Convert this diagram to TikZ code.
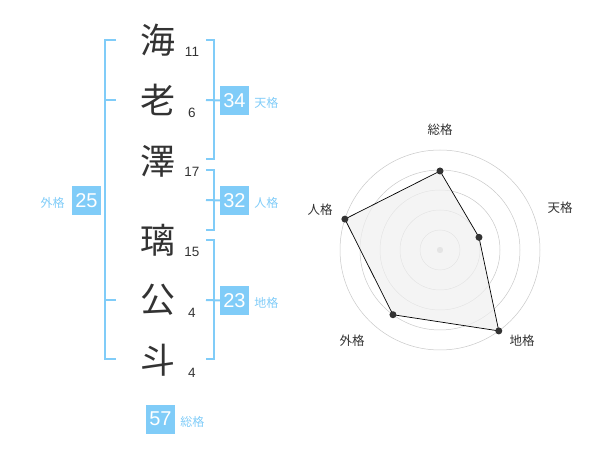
\documentclass[tikz,border=0pt]{standalone}
\usepackage{fontspec}
\setmainfont{Liberation Sans}
\newfontfamily\cjk{Noto Sans CJK JP}
\usepackage{tikz}
\usetikzlibrary{positioning,calc}
\definecolor{kakublue}{RGB}{128,204,248}
\definecolor{ringgray}{RGB}{200,200,200}
\definecolor{inkgray}{RGB}{51,51,51}
\tikzset{
  kanji/.style={inner sep=0pt, text=inkgray, font=\cjk\fontsize{35}{35}\selectfont},
  strokes/.style={inner sep=0pt, text=inkgray, font=\fontsize{13.5}{13.5}\selectfont},
  kakubox/.style={fill=kakublue, text=white, minimum size=29pt, inner sep=0pt, font=\fontsize{20}{20}\selectfont},
  kakuname/.style={inner sep=0pt, text=kakublue, font=\cjk\fontsize{12}{12}\selectfont},
  bracket/.style={draw=kakublue, line width=2pt},
  axisname/.style={inner sep=0pt, text=inkgray, font=\cjk\fontsize{12.5}{12.5}\selectfont},
  dot/.style={circle, fill=inkgray, inner sep=0pt, minimum size=7pt}
}

\begin{document}
\begin{tikzpicture}[x=1pt,y=-1pt]
\useasboundingbox (0,0) rectangle (600,470);
% name column
\node[kanji] (c1) at (158,40) {海};
\node[kanji] (c2) at (158,100) {老};
\node[kanji] (c3) at (158,161) {澤};
\node[kanji] (c4) at (158,240) {璃};
\node[kanji] (c5) at (158,300) {公};
\node[kanji] (c6) at (158,360) {斗};
\node[strokes] (s1) at (192,52) {11};
\node[strokes] (s2) at (192,113) {6};
\node[strokes] (s3) at (192,172) {17};
\node[strokes] (s4) at (192,252) {15};
\node[strokes] (s5) at (192,313) {4};
\node[strokes] (s6) at (192,373) {4};
% boxes
\node[kakubox] (ten) at (234.5,100.5) {34};
\node[kakubox] (jin) at (234.5,200.5) {32};
\node[kakubox] (chi) at (234.5,300.5) {23};
\node[kakubox] (gai) at (86.5,200.5) {25};
\node[kakubox] (sou) at (160.5,419) {57};
\node[kakuname, right=5pt of ten, yshift=-2pt] (tenname) {天格};
\node[kakuname, right=5pt of jin, yshift=-2pt] (jinname) {人格};
\node[kakuname, right=5pt of chi, yshift=-2pt] (chiname) {地格};
\node[kakuname, left=7pt of gai, yshift=-2pt] (gainame) {外格};
\node[kakuname, right=5pt of sou, yshift=-3pt] (souname) {総格};
\begin{scope}[bracket]
\draw (116,40) -| (105,359) -- (116,359);
\draw (105,100) -- (116,100);
\draw (105,300) -- (116,300);
\draw (206,40) -| (214,159) -- (206,159);
\draw (206,100) -- (ten.west);
\draw (206,170) -| (214,230) -- (206,230);
\draw (206,200) -- (jin.west);
\draw (206,240) -| (214,359) -- (206,359);
\draw (206,300) -- (chi.west);
\end{scope}
% radar
\begin{scope}[shift={(440,250)},y=1pt]
\foreach \r in {20,40,60,80,100}
  \draw[ringgray, line width=0.5pt] (0,0) circle (\r pt);
\fill[ringgray] (0,0) circle (3.2pt);
\coordinate (psou) at (90:79);
\coordinate (pten) at (18:41);
\coordinate (pchi) at (-54:100);
\coordinate (pgai) at (-126:80);
\coordinate (pjin) at (162:100);
\filldraw[fill=black!6, fill opacity=0.7, draw=black, line width=0.7pt]
  (psou) -- (pten) -- (pchi) -- (pgai) -- (pjin) -- cycle;
\foreach \p in {psou,pten,pchi,pgai,pjin}
  \node[dot] at (\p) {};
\node[axisname] (asou) at (0,120) {総格};
\node[axisname] (aten) at (120,42) {天格};
\node[axisname] (achi) at (82,-91) {地格};
\node[axisname] (agai) at (-88,-91) {外格};
\node[axisname] (ajin) at (-120,40) {人格};
\end{scope}
\end{tikzpicture}
\end{document}
